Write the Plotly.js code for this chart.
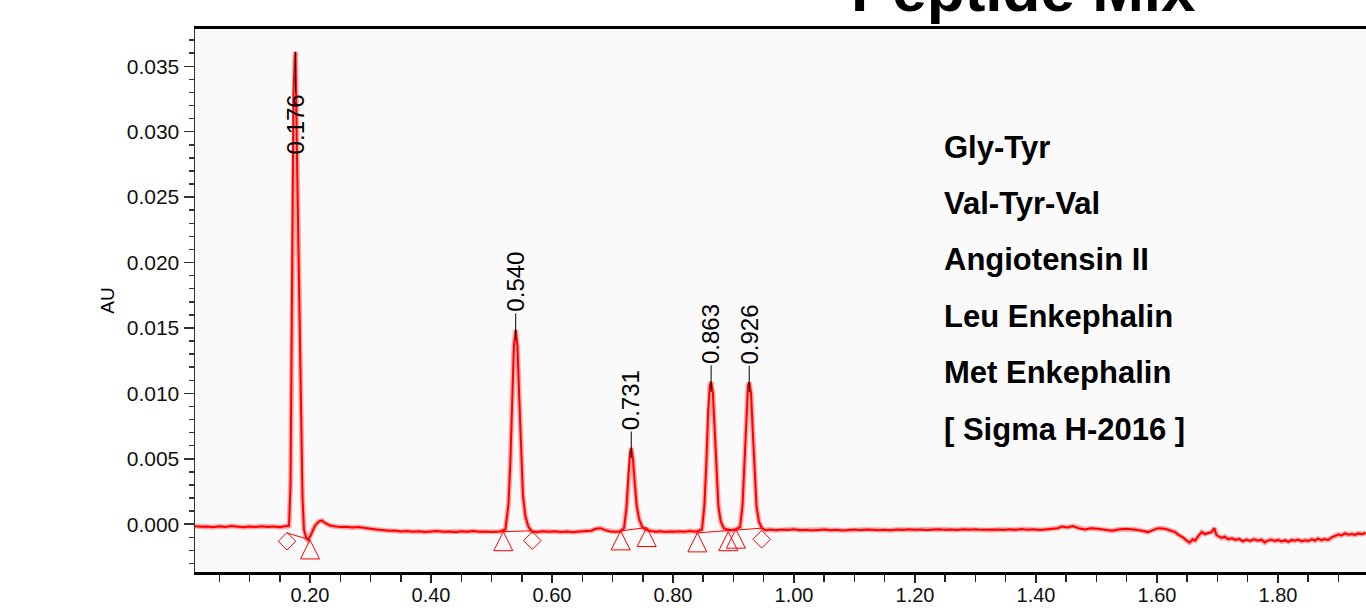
<!DOCTYPE html>
<html>
<head>
<meta charset="utf-8">
<script src="https://cdn.plot.ly/plotly-3.0.1.min.js"></script>
<style>
html,body{margin:0;padding:0;background:#fff;overflow:hidden;}
#chart{width:1366px;height:608px;}
</style>
</head>
<body>
<div id="chart"></div>
<script>
// ---- Data ----
const timeMin = [
0.010,0.020,0.030,0.040,0.050,0.060,0.070,0.080,0.090,0.100,0.110,0.120,0.130,0.140,0.150,0.158,
0.1653,0.1678,0.1694,0.1710,0.1727,0.1750,0.1760,0.1785,0.1818,0.1851,0.1876,0.1900,0.1934,0.1967,
0.2017,0.2083,0.2150,0.2198,0.2248,0.2330,0.2413,0.250,0.260,0.270,0.280,0.290,0.300,0.310,0.320,
0.330,0.340,0.350,0.360,0.370,0.380,0.390,0.400,0.410,0.420,0.430,0.440,0.450,0.460,0.470,0.480,
0.490,0.500,0.508,0.515,0.523,0.528,0.531,0.534,0.537,0.540,0.543,0.546,0.549,0.552,0.556,0.561,
0.567,0.575,0.585,0.595,0.605,0.615,0.625,0.635,0.645,0.655,0.665,0.672,0.680,0.688,0.696,0.704,
0.712,0.719,0.723,0.726,0.729,0.731,0.734,0.737,0.740,0.744,0.749,0.755,0.763,0.771,0.779,0.787,
0.795,0.803,0.811,0.819,0.827,0.834,0.840,0.848,0.852,0.855,0.858,0.861,0.863,0.866,0.869,0.872,
0.875,0.879,0.884,0.890,0.896,0.903,0.911,0.915,0.918,0.921,0.924,0.926,0.929,0.932,0.935,0.938,
0.942,0.947,0.953,0.960,0.970,0.980,0.990,1.000,1.010,1.020,1.030,1.040,1.050,1.060,1.070,1.080,
1.090,1.100,1.110,1.120,1.130,1.140,1.150,1.160,1.170,1.180,1.190,1.200,1.210,1.220,1.230,1.240,
1.250,1.260,1.270,1.280,1.290,1.300,1.310,1.316,1.326,1.336,1.346,1.356,1.366,1.376,1.386,1.396,
1.406,1.416,1.426,1.436,1.443,1.452,1.461,1.470,1.481,1.491,1.502,1.514,1.526,1.536,1.547,1.558,
1.569,1.578,1.585,1.594,1.602,1.613,1.622,1.630,1.637,1.643,1.649,1.654,1.659,1.663,1.668,1.674,
1.679,1.684,1.690,1.695,1.698,1.701,1.707,1.712,1.718,1.724,1.730,1.736,1.742,1.748,1.754,1.760,
1.767,1.773,1.778,1.783,1.789,1.795,1.800,1.806,1.812,1.817,1.823,1.828,1.833,1.839,1.845,1.850,
1.856,1.861,1.866,1.872,1.877,1.883,1.889,1.894,1.900,1.905,1.911,1.916,1.922,1.927,1.933,1.939,
1.945
];
const absorbanceAU = [
-0.00015,-0.00020,-0.00017,-0.00022,-0.00016,-0.00021,-0.00014,-0.00019,-0.00023,-0.00017,-0.00021,-0.00015,-0.00021,-0.00018,-0.00022,-0.00016,
-0.00012,0.0030,0.0120,0.0240,0.0330,0.0358,0.0361,0.0280,0.0180,0.0080,0.0020,-0.0004,-0.0010,-0.0012,
-0.0008,-0.0001,0.00022,0.00028,0.00010,-0.00010,-0.00018,-0.00022,-0.00019,-0.00025,-0.00021,-0.00030,-0.00034,-0.00041,-0.00045,
-0.00050,-0.00048,-0.00055,-0.00052,-0.00058,-0.00054,-0.00060,-0.00056,-0.00052,-0.00058,-0.00055,-0.00061,-0.00054,-0.00057,-0.00052,-0.00058,
-0.00055,-0.00060,-0.00056,-0.00055,-0.00040,0.00150,0.00450,0.00950,0.01360,0.01485,0.01350,0.00950,0.00520,0.00220,0.00060,-0.00020,
-0.00055,-0.00060,-0.00054,-0.00058,-0.00053,-0.00059,-0.00055,-0.00061,-0.00056,-0.00052,-0.00050,-0.00035,-0.00030,-0.00045,-0.00055,-0.00058,
-0.00055,-0.00030,0.00120,0.00350,0.00550,0.00583,0.00490,0.00300,0.00140,0.00040,-0.00020,-0.00040,-0.00052,-0.00057,-0.00053,-0.00059,
-0.00055,-0.00058,-0.00054,-0.00057,-0.00052,-0.00056,-0.00055,-0.00040,0.00150,0.00450,0.00850,0.01060,0.01088,0.01000,0.00700,0.00370,
0.00140,0.00020,-0.00030,-0.00040,-0.00045,-0.00040,-0.00020,0.00150,0.00450,0.00850,0.01060,0.01085,0.01000,0.00700,0.00370,0.00140,
0.00020,-0.00030,-0.00045,-0.00040,-0.00046,-0.00041,-0.00044,-0.00039,-0.00045,-0.00042,-0.00047,-0.00043,-0.00040,-0.00046,-0.00042,-0.00048,
-0.00044,-0.00041,-0.00045,-0.00040,-0.00043,-0.00046,-0.00042,-0.00045,-0.00041,-0.00044,-0.00039,-0.00043,-0.00040,-0.00045,-0.00041,-0.00038,
-0.00043,-0.00040,-0.00044,-0.00039,-0.00042,-0.00038,-0.00043,-0.00042,-0.00046,-0.00040,-0.00044,-0.00039,-0.00043,-0.00037,-0.00042,-0.00038,
-0.00044,-0.00040,-0.00036,-0.00030,-0.00018,-0.00024,-0.00014,-0.00030,-0.00040,-0.00030,-0.00035,-0.00045,-0.00050,-0.00040,-0.00035,-0.00038,
-0.00043,-0.00052,-0.00060,-0.00042,-0.00030,-0.00035,-0.00048,-0.00060,-0.00085,-0.00100,-0.00125,-0.00140,-0.00115,-0.00125,-0.00090,-0.00060,
-0.00075,-0.00070,-0.00060,-0.00030,-0.00080,-0.00090,-0.00105,-0.00095,-0.00115,-0.00108,-0.00120,-0.00112,-0.00130,-0.00118,-0.00128,-0.00115,
-0.00125,-0.00118,-0.00140,-0.00125,-0.00118,-0.00128,-0.00120,-0.00132,-0.00122,-0.00135,-0.00120,-0.00126,-0.00118,-0.00130,-0.00122,-0.00128,
-0.00115,-0.00125,-0.00110,-0.00122,-0.00114,-0.00120,-0.00098,-0.00090,-0.00078,-0.00085,-0.00070,-0.00080,-0.00074,-0.00082,-0.00070,-0.00076,
-0.00065
];

// Peaks (retention time, apex height)
const peakTimes   = [0.176, 0.540, 0.731, 0.863, 0.926];
const peakHeights = [0.0361, 0.01485, 0.00583, 0.01088, 0.01085];
const peakLabels  = ['0.176', '0.540', '0.731', '0.863', '0.926'];

// Integration markers (peak start / end)
const diamondTimes  = [0.162, 0.5675, 0.9466];
const diamondValues = [-0.0013, -0.00125, -0.00115];
const triangleTimes  = [0.200, 0.5195, 0.7135, 0.7565, 0.8402, 0.8914, 0.904];
const triangleValues = [-0.0012, -0.00057, -0.00051, -0.00025, -0.00066, -0.00057, -0.00038];

// Integration baselines (segments, null = break)
const baselineTimes  = [0.162, 0.200, null, 0.5195, 0.5675, null, 0.7135, 0.7565, null, 0.8402, 0.894, 0.9466];
const baselineValues = [-0.00066, -0.0012, null, -0.00057, -0.00050, null, -0.00051, -0.00025, null, -0.00066, -0.00050, -0.00030];

// Compound list
const compoundNames = ['Gly-Tyr', 'Val-Tyr-Val', 'Angiotensin II', 'Leu Enkephalin', 'Met Enkephalin', '[ Sigma H-2016 ]'];
const chartTitle = 'Peptide Mix';
const yAxisTitle = 'AU';

// ---- Layout geometry ----
const W = 1366, H = 608;
const M = {l: 195, r: 0, t: 29, b: 36};
const xRange = [0.0099, 1.9455];
const yRange = [-0.00365, 0.03785];
const plotH = H - M.t - M.b;
const plotW = W - M.l - M.r;
const yPerPx = (yRange[1] - yRange[0]) / plotH;
const pxToY = py => yRange[1] - (py - M.t) * yPerPx;
const pxToX = px => xRange[0] + (px - M.l) * (xRange[1] - xRange[0]) / plotW;

const FONT = 'Liberation Sans, Arial, sans-serif';
const RED = '#ff0000';

const traces = [
  {x: timeMin, y: absorbanceAU, type: 'scatter', mode: 'lines',
   line: {color: 'rgba(255,0,0,0.33)', width: 5}, hoverinfo: 'skip'},
  {x: timeMin, y: absorbanceAU, type: 'scatter', mode: 'lines',
   line: {color: RED, width: 2}, hoverinfo: 'skip'},
  {x: baselineTimes, y: baselineValues, type: 'scatter', mode: 'lines',
   line: {color: RED, width: 1}, connectgaps: false, hoverinfo: 'skip'},
  {x: diamondTimes, y: diamondValues, type: 'scatter', mode: 'markers',
   marker: {symbol: 'diamond-open', size: 13.5, color: RED, line: {color: RED, width: 1}}, hoverinfo: 'skip'}
];

const shapes = triangleTimes.map((t, i) => ({
  type: 'path', xref: 'x', yref: 'y',
  xsizemode: 'pixel', ysizemode: 'pixel',
  xanchor: t, yanchor: triangleValues[i],
  path: 'M0,0 L-9.5,-19 L9.5,-19 Z',
  line: {color: RED, width: 1}, fillcolor: 'rgba(0,0,0,0)'
}));

const annotations = [];
// peak labels
peakTimes.forEach((t, i) => {
  const below = peakHeights[i] > 0.03;
  annotations.push({
    x: t, y: below ? peakHeights[i] : peakHeights[i] - 10 * yPerPx,
    xref: 'x', yref: 'y', text: peakLabels[i], textangle: -90,
    showarrow: true, arrowhead: 0, arrowwidth: 1, arrowcolor: '#000',
    ax: 0, ay: below ? 72 : -58, standoff: 0,
    font: {family: FONT, size: 24, color: '#000'}
  });
});
// compound list
const listTopPx = 147, listStepPx = 56.4, listLeftPx = 942;
compoundNames.forEach((name, i) => {
  annotations.push({
    x: pxToX(listLeftPx), y: pxToY(listTopPx + i * listStepPx),
    xref: 'x', yref: 'y', xanchor: 'left', yanchor: 'middle',
    text: name, showarrow: false,
    font: {family: FONT, size: 31, weight: 'bold', color: '#000'}
  });
});
// title (cut off at top as in the reference)
annotations.push({
  x: (1023 - M.l) / plotW, y: (H - M.b - 26) / plotH,
  xref: 'paper', yref: 'paper', xanchor: 'center', yanchor: 'bottom',
  text: chartTitle, showarrow: false,
  font: {family: FONT, size: 62, weight: 'bold', color: '#000'}
});

const layout = {
  width: W, height: H, margin: M,
  paper_bgcolor: '#ffffff', plot_bgcolor: '#fafafa',
  showlegend: false, hovermode: false,
  xaxis: {
    range: xRange, tick0: 0, dtick: 0.2, tickformat: '.2f',
    ticks: 'outside', ticklen: 8, tickwidth: 1.5, tickcolor: '#222',
    ticklabelstandoff: -5,
    showline: true, linewidth: 3, linecolor: '#000', mirror: true,
    showgrid: false, zeroline: false,
    tickfont: {family: FONT, size: 20, color: '#111'},
    minor: {tick0: 0, dtick: 0.05, ticks: 'outside', ticklen: 7, tickwidth: 1.5, tickcolor: '#222', showgrid: false}
  },
  yaxis: {
    range: yRange, tick0: 0, dtick: 0.005, tickformat: '.3f',
    ticks: 'outside', ticklen: 10, tickwidth: 1.5, tickcolor: '#333',
    showline: true, linewidth: 1.5, linecolor: '#333',
    showgrid: false, zeroline: false,
    tickfont: {family: FONT, size: 21, color: '#111'},
    minor: {tick0: 0, dtick: 0.001, ticks: 'outside', ticklen: 5, tickwidth: 1.5, tickcolor: '#333', showgrid: false},
    title: {text: yAxisTitle, font: {family: FONT, size: 19, color: '#000'}, standoff: 7}
  },
  shapes: shapes,
  annotations: annotations
};

Plotly.newPlot('chart', traces, layout, {staticPlot: true, displayModeBar: false});
</script>
</body>
</html>
